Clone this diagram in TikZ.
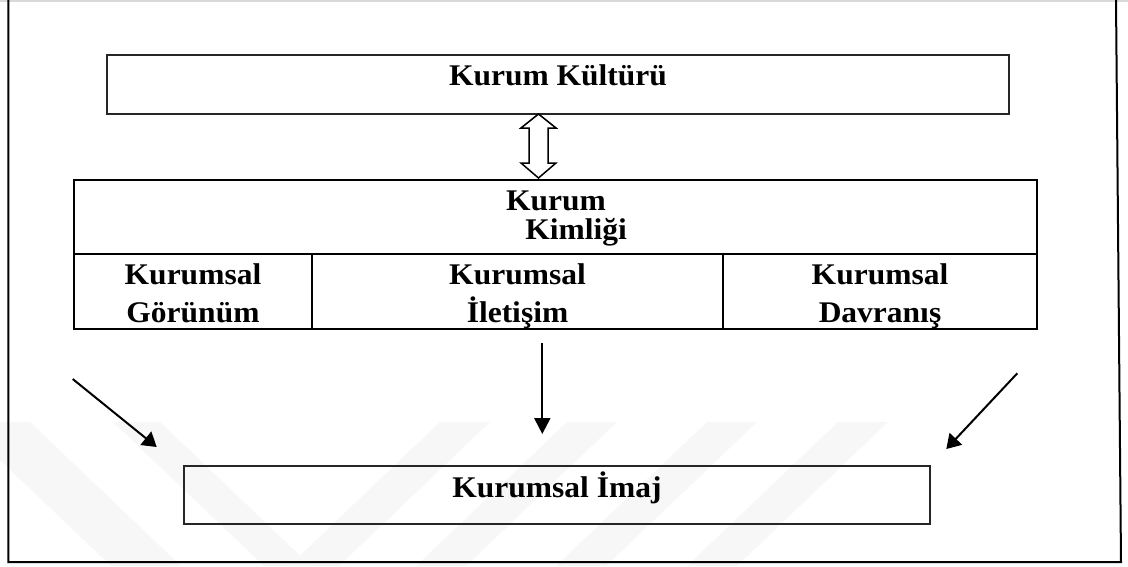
\documentclass[tikz,border=0pt]{standalone}
\usepackage{fontspec}
\setmainfont{Liberation Serif}[FakeStretch=1.05]
\usetikzlibrary{arrows.meta}

% bold caption face used by every box
\newcommand\figfont{\bfseries\fontsize{30}{38}\selectfont}

\tikzset{
  outline/.style={draw=black!85, line width=1.5pt, inner sep=0pt, outer sep=0pt},
  cellbox/.style={draw=black, line width=2.2pt, inner sep=0pt, outer sep=0pt, anchor=north west},
  figtext/.style={font=\figfont, inner sep=0pt, anchor=base},
  frameline/.style={draw=black, line width=2pt},
  flowarrow/.style={line width=2pt, -{Triangle[length=16pt,width=16pt]}},
  slantarrow/.style={line width=2pt, -{Triangle[length=14pt,width=17pt]}},
  dblarrow/.style={draw=black, fill=white, line width=1.5pt, line join=miter},
  wmark/.style={fill=gray!6, draw=none}
}

\begin{document}
\begin{tikzpicture}[x=1pt, y=-1pt]
\useasboundingbox (0,0) rectangle (1128,566);

% faint diagonal band pattern in the lower part
\begin{scope}
  \clip (-60,422) rectangle (1128,566);
  \fill[wmark] (-40,422) -- (30,422) -- (181,566) -- (111,566) -- cycle;
  \fill[wmark] (113,422) -- (160,422) -- (311,566) -- (264,566) -- cycle;
  \fill[wmark] (440,422) -- (490,422) -- (339,566) -- (289,566) -- cycle;
  \fill[wmark] (567,422) -- (617,422) -- (466,566) -- (416,566) -- cycle;
  \fill[wmark] (707,422) -- (757,422) -- (606,566) -- (556,566) -- cycle;
  \fill[wmark] (838,422) -- (888,422) -- (737,566) -- (687,566) -- cycle;
\end{scope}

% surrounding frame
\draw[gray!30, line width=1.5pt] (0,0.75) -- (1128,0.75);
\draw[frameline] (8.3,0) -- (8.3,562) -- (1121,562) -- (1116,0);

% corporate culture
\node[outline, minimum width=902pt, minimum height=59pt] (kultur) at (558,84.5) {};
\node[figtext] (kulturtext) at (558,85.5) {Kurum Kültürü};

% corporate identity table
\node[cellbox, minimum width=963pt, minimum height=74pt] (kimlik) at (74,180) {};
\node[cellbox, minimum width=238pt, minimum height=75pt] (gorunum) at (74,254) {};
\node[cellbox, minimum width=411pt, minimum height=75pt] (iletisim) at (312,254) {};
\node[cellbox, minimum width=314pt, minimum height=75pt] (davranis) at (723,254) {};

\node[figtext] (kimliktext) at (556,210)
  {\fontsize{30}{27}\selectfont\begin{tabular}[t]{@{}c@{}}Kurum\\\hspace*{40pt}Kimliği\end{tabular}};
\node[figtext] (gorunumtext) at (193,284)
  {\begin{tabular}[t]{@{}c@{}}Kurumsal\\Görünüm\end{tabular}};
\node[figtext] (iletisimtext) at (517.5,284)
  {\begin{tabular}[t]{@{}c@{}}Kurumsal\\İletişim\end{tabular}};
\node[figtext] (davranistext) at (880,284)
  {\begin{tabular}[t]{@{}c@{}}Kurumsal\\Davranış\end{tabular}};

% corporate image
\node[outline, minimum width=746pt, minimum height=58pt] (imaj) at (557,495) {};
\node[figtext] (imajtext) at (557,497.5) {Kurumsal İmaj};

% two-way link between culture and identity
\path (kultur.south) ++(-19.5,0) coordinate (dtop);
\draw[dblarrow, shift={(dtop)}]
  (0,0) -- (17.5,14) -- (9.5,14) -- (9.5,49) -- (17.5,49) -- (0,64)
  -- (-17.5,49) -- (-9.5,49) -- (-9.5,14) -- (-17.5,14) -- cycle;

% arrows towards the corporate image
\coordinate (la) at (72.7,379);
\coordinate (lb) at (156.7,447);
\coordinate (ma) at (542.3,343);
\coordinate (mb) at (542.3,434);
\coordinate (ra) at (1017.3,373.3);
\coordinate (rb) at (946.3,449);
\draw[slantarrow] (la) -- (lb);
\draw[flowarrow] (ma) -- (mb);
\draw[slantarrow] (ra) -- (rb);
\end{tikzpicture}
\end{document}
